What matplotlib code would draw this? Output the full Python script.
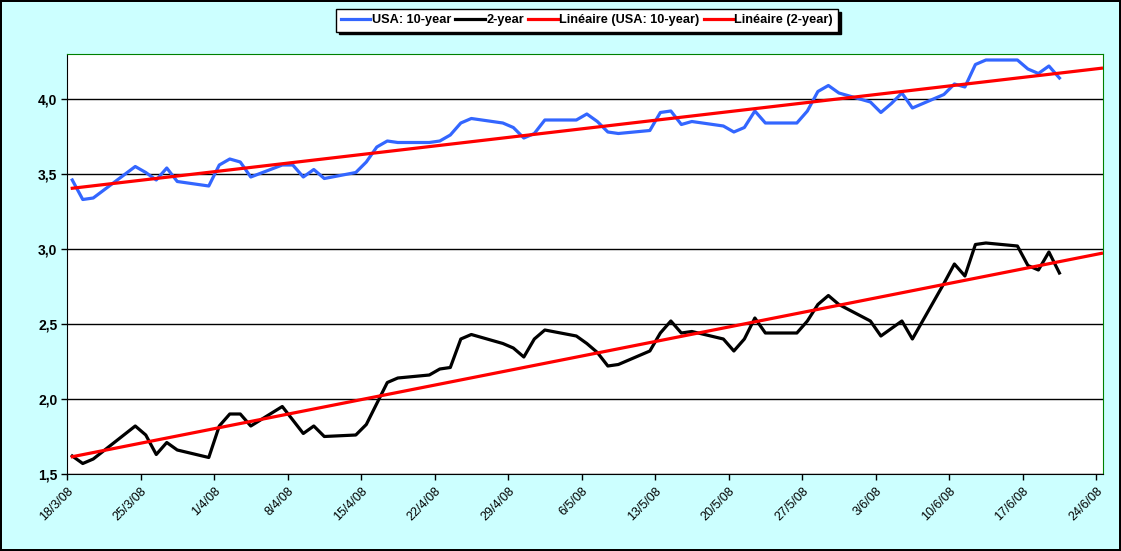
from datetime import datetime, timedelta

import matplotlib
matplotlib.use("Agg")
import matplotlib.dates as mdates
import matplotlib.pyplot as plt
import numpy as np

plt.rcParams["font.family"] = ["Liberation Sans", "DejaVu Sans"]

# Business days shown in the chart (dd/mm, 2008)
dates = [
    "18/3", "19/3", "20/3", "24/3", "25/3", "26/3", "27/3", "28/3", "31/3",
    "1/4", "2/4", "3/4", "4/4", "7/4", "8/4", "9/4", "10/4", "11/4",
    "14/4", "15/4", "16/4", "17/4", "18/4", "21/4", "22/4", "23/4", "24/4", "25/4",
    "28/4", "29/4", "30/4", "1/5", "2/5", "5/5", "6/5", "7/5", "8/5", "9/5",
    "12/5", "13/5", "14/5", "15/5", "16/5", "19/5", "20/5", "21/5", "22/5", "23/5",
    "26/5", "27/5", "28/5", "29/5", "30/5", "2/6", "3/6", "4/6", "5/6", "6/6",
    "9/6", "10/6", "11/6", "12/6", "13/6", "16/6", "17/6", "18/6", "19/6", "20/6",
]

ten_year = [
    3.46, 3.33, 3.34, 3.55, 3.51, 3.46, 3.54, 3.45, 3.42,
    3.56, 3.60, 3.58, 3.48, 3.56, 3.56, 3.48, 3.53, 3.47,
    3.51, 3.58, 3.68, 3.72, 3.71, 3.71, 3.72, 3.76, 3.84, 3.87,
    3.84, 3.81, 3.74, 3.77, 3.86, 3.86, 3.90, 3.85, 3.78, 3.77,
    3.79, 3.91, 3.92, 3.83, 3.85, 3.82, 3.78, 3.81, 3.92, 3.84,
    3.84, 3.92, 4.05, 4.09, 4.04, 3.98, 3.91, 3.97, 4.04, 3.94,
    4.03, 4.10, 4.08, 4.23, 4.26, 4.26, 4.20, 4.17, 4.22, 4.14,
]

two_year = [
    1.62, 1.57, 1.60, 1.82, 1.76, 1.63, 1.71, 1.66, 1.61,
    1.82, 1.90, 1.90, 1.82, 1.95, 1.86, 1.77, 1.82, 1.75,
    1.76, 1.83, 1.97, 2.11, 2.14, 2.16, 2.20, 2.21, 2.40, 2.43,
    2.37, 2.34, 2.28, 2.40, 2.46, 2.42, 2.37, 2.31, 2.22, 2.23,
    2.32, 2.44, 2.52, 2.44, 2.45, 2.40, 2.32, 2.40, 2.54, 2.44,
    2.44, 2.52, 2.63, 2.69, 2.63, 2.52, 2.42, 2.47, 2.52, 2.40,
    2.77, 2.90, 2.82, 3.03, 3.04, 3.02, 2.89, 2.86, 2.98, 2.84,
]

y_ticks = [1.5, 2.0, 2.5, 3.0, 3.5, 4.0]
forecast_days = 4  # Excel trendline forecast forward

BG = "#CCFFFF"
BLUE = "#3366FF"

# points sit in the middle of their day on Excel's date axis
x = [datetime.strptime(d + "/2008", "%d/%m/%Y") + timedelta(hours=12) for d in dates]
xn = mdates.date2num(x)
start = datetime(2008, 3, 18)
end = datetime(2008, 6, 24)

fig = plt.figure(figsize=(11.21, 5.51), dpi=100, facecolor=BG, edgecolor="black", linewidth=1.5)
ax = fig.add_axes([67 / 1121, 1 - 474 / 551, (1103 - 67) / 1121, (474 - 54) / 551])
ax.set_facecolor("white")

ax.plot(xn, ten_year, color=BLUE, lw=2.3, label="USA: 10-year", zorder=3)
ax.plot(xn, two_year, color="black", lw=2.3, label="2-year", zorder=3)

xt = np.array([xn[0], xn[-1] + forecast_days])
for series, lab in [(ten_year, "Linéaire (USA: 10-year)"), (two_year, "Linéaire (2-year)")]:
    k, b = np.polyfit(xn, series, 1)
    ax.plot(xt, k * xt + b, color="#FF0000", lw=2.3, label=lab, zorder=4)

ax.set_ylim(1.5, 4.3)
ax.set_xlim(mdates.date2num(start), mdates.date2num(end) + 0.65)
ax.set_yticks(y_ticks)
ax.set_yticklabels([f"{v:.1f}".replace(".", ",") for v in y_ticks], fontweight="bold", fontsize=10)
ax.yaxis.grid(True, color="black", lw=1)
ax.set_axisbelow(True)

weeks = [start + timedelta(days=7 * i) for i in range(15)]
ax.set_xticks(mdates.date2num(weeks))
ax.set_xticklabels([f"{d.day}/{d.month}/{d.strftime('%y')}" for d in weeks],
                   rotation=45, ha="right", rotation_mode="anchor", fontsize=9)
ax.tick_params(axis="x", direction="out", length=4, width=1, pad=4)
ax.tick_params(axis="y", direction="out", length=4, width=1, pad=3)

for side in ("top", "right"):
    ax.spines[side].set_color("#008000")
for side in ("left", "bottom"):
    ax.spines[side].set_color("black")

leg = fig.legend(loc="center", bbox_to_anchor=(587 / 1121, 1 - 20.5 / 551), ncol=4,
                 frameon=True, fancybox=False, framealpha=1, edgecolor="black",
                 shadow={"color": "black", "alpha": 1},
                 prop={"weight": "bold", "size": 9.2},
                 handlelength=2.3, handletextpad=0.1, columnspacing=0.35,
                 borderpad=0.4)
leg.get_frame().set_linewidth(1)

fig.savefig("out.png", dpi=100, facecolor=BG, edgecolor="black")
